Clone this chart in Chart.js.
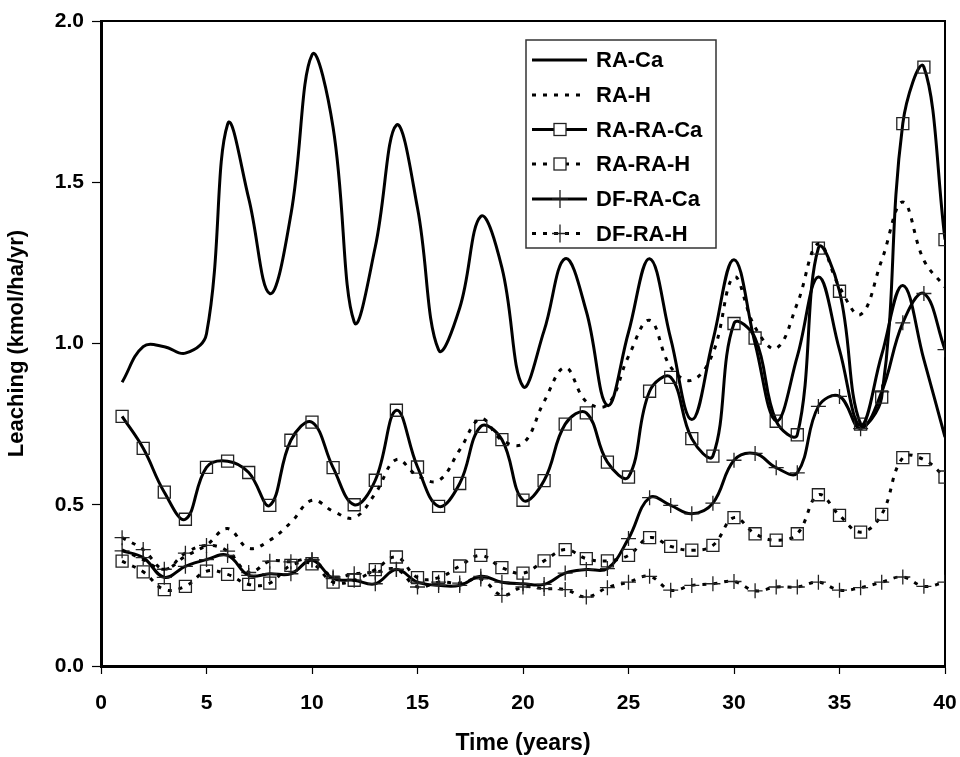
<!DOCTYPE html>
<html>
<head>
<meta charset="utf-8">
<script src="https://cdn.jsdelivr.net/npm/chart.js@4.4.1/dist/chart.umd.min.js"></script>
<style>
  html, body { margin: 0; padding: 0; background: #fff; }
</style>
</head>
<body>
<canvas id="myChart" width="960" height="757"></canvas>
<script>
var years = [1, 2, 3, 4, 5, 6, 7, 8, 9, 10, 11, 12, 13, 14, 15, 16, 17, 18, 19, 20,
             21, 22, 23, 24, 25, 26, 27, 28, 29, 30, 31, 32, 33, 34, 35, 36, 37, 38, 39, 40];

var raCa = [0.88, 0.99, 0.99, 0.97, 1.03, 1.68, 1.45, 1.155, 1.40, 1.895,
            1.67, 1.067, 1.30, 1.677, 1.42, 0.98, 1.11, 1.394, 1.235, 0.867,
            1.04, 1.263, 1.10, 0.808, 1.035, 1.263, 1.015, 0.764, 1.01, 1.26,
            1.0, 0.76, 0.96, 1.206, 0.98, 0.745, 0.965, 1.18, 0.95, 0.71];

var raH = [0.36, 0.33, 0.30, 0.34, 0.375, 0.426, 0.365, 0.39, 0.445, 0.514,
           0.48, 0.46, 0.535, 0.64, 0.59, 0.575, 0.67, 0.767, 0.70, 0.69,
           0.82, 0.925, 0.82, 0.81, 0.96, 1.072, 0.927, 0.886, 0.97, 1.206,
           1.05, 0.985, 1.124, 1.31, 1.175, 1.09, 1.258, 1.439, 1.258, 1.175];

var raRaCa = [0.774, 0.675, 0.539, 0.455, 0.616, 0.635, 0.60, 0.498, 0.70, 0.756,
              0.615, 0.50, 0.576, 0.793, 0.617, 0.495, 0.566, 0.743, 0.702, 0.514,
              0.575, 0.75, 0.785, 0.632, 0.586, 0.852, 0.895, 0.705, 0.651, 1.062,
              1.017, 0.759, 0.717, 1.296, 1.162, 0.75, 0.834, 1.682, 1.857, 1.322];

var raRaH = [0.325, 0.292, 0.237, 0.247, 0.294, 0.284, 0.253, 0.257, 0.312, 0.317,
             0.26, 0.266, 0.299, 0.338, 0.274, 0.274, 0.31, 0.343, 0.305, 0.288,
             0.326, 0.361, 0.333, 0.326, 0.343, 0.398, 0.371, 0.359, 0.374, 0.46,
             0.41, 0.39, 0.41, 0.531, 0.467, 0.415, 0.47, 0.646, 0.64, 0.586];

var dfRaCa = [0.357, 0.336, 0.275, 0.309, 0.33, 0.343, 0.281, 0.286, 0.286, 0.328,
              0.271, 0.266, 0.255, 0.299, 0.26, 0.25, 0.25, 0.278, 0.26, 0.255,
              0.253, 0.288, 0.299, 0.302, 0.395, 0.522, 0.498, 0.472, 0.505, 0.638,
              0.659, 0.615, 0.599, 0.805, 0.836, 0.736, 0.85, 1.064, 1.155, 0.981];

var dfRaH = [0.398, 0.361, 0.30, 0.35, 0.374, 0.356, 0.29, 0.325, 0.323, 0.33,
             0.276, 0.286, 0.291, 0.30, 0.245, 0.26, 0.257, 0.27, 0.219, 0.245,
             0.24, 0.237, 0.214, 0.243, 0.26, 0.278, 0.235, 0.25, 0.255, 0.262,
             0.233, 0.245, 0.245, 0.26, 0.235, 0.243, 0.26, 0.276, 0.247, 0.26];

var xTicks = [0, 5, 10, 15, 20, 25, 30, 35, 40];
var yTicks = [0.0, 0.5, 1.0, 1.5, 2.0];

var FONT = '"Liberation Sans", Arial, sans-serif';
var dots = [4, 7];

function pts(vals) {
  return years.map(function (x, i) { return { x: x, y: vals[i] }; });
}

function series(label, vals, dashed, marker) {
  return {
    label: label,
    data: pts(vals),
    borderColor: '#000',
    borderWidth: 3,
    borderDash: dashed ? dots : [],
    tension: 0.4,
    fill: false,
    pointStyle: marker || 'circle',
    pointRadius: marker === 'rect' ? 8.5 : (marker === 'cross' ? 7.5 : 0),
    pointBorderColor: '#222',
    pointBorderWidth: 1.3,
    pointBackgroundColor: 'rgba(0,0,0,0)',
    markerKind: marker || null
  };
}

// frame round the plot area (top and right sides)
const frame = {
  id: 'frame',
  beforeDatasetsDraw(chart) {
    const a = chart.chartArea, ctx = chart.ctx;
    ctx.save();
    ctx.strokeStyle = '#000';
    ctx.lineWidth = 2;
    ctx.strokeRect(a.left, a.top, a.right - a.left, a.bottom - a.top);
    ctx.restore();
  }
};

// legend box drawn inside the plot like the original
const boxLegend = {
  id: 'boxLegend',
  afterDraw(chart) {
    const ctx = chart.ctx;
    const bx = 526, by = 40, bw = 190, bh = 208;
    const rows = [60, 95, 129.5, 164, 199, 233.5];
    ctx.save();
    ctx.fillStyle = '#fff';
    ctx.fillRect(bx, by, bw, bh);
    ctx.strokeStyle = '#333';
    ctx.lineWidth = 1.5;
    ctx.strokeRect(bx, by, bw, bh);
    chart.data.datasets.forEach(function (ds, i) {
      const y = rows[i];
      ctx.strokeStyle = '#000';
      ctx.lineWidth = ds.borderWidth;
      ctx.setLineDash(ds.borderDash);
      ctx.beginPath();
      ctx.moveTo(532, y);
      ctx.lineTo(587, y);
      ctx.stroke();
      ctx.setLineDash([]);
      ctx.lineWidth = 1.3;
      ctx.strokeStyle = '#222';
      if (ds.markerKind === 'rect') {
        ctx.fillStyle = '#fff';
        ctx.fillRect(554, y - 6, 12, 12);
        ctx.strokeRect(554, y - 6, 12, 12);
      } else if (ds.markerKind === 'cross') {
        ctx.beginPath();
        ctx.moveTo(552, y); ctx.lineTo(568, y);
        ctx.moveTo(560, y - 9); ctx.lineTo(560, y + 9);
        ctx.stroke();
      }
      ctx.fillStyle = '#000';
      ctx.font = 'bold 22px ' + FONT;
      ctx.textBaseline = 'middle';
      ctx.textAlign = 'left';
      ctx.fillText(ds.label, 596, y + 1);
    });
    ctx.restore();
  }
};

const data = {
  datasets: [
    series('RA-Ca', raCa, false, null),
    series('RA-H', raH, true, null),
    series('RA-RA-Ca', raRaCa, false, 'rect'),
    series('RA-RA-H', raRaH, true, 'rect'),
    series('DF-RA-Ca', dfRaCa, false, 'cross'),
    series('DF-RA-H', dfRaH, true, 'cross')
  ]
};

const config = {
  type: 'line',
  data: data,
  plugins: [frame, boxLegend],
  options: {
    responsive: false,
    animation: false,
    devicePixelRatio: 1,
    layout: { padding: { top: 21, right: 15, left: 0, bottom: 0 } },
    plugins: { legend: { display: false }, tooltip: { enabled: false } },
    scales: {
      x: {
        type: 'linear',
        min: 0,
        max: 40,
        afterBuildTicks: function (scale) {
          scale.ticks = xTicks.map(function (v) { return { value: v }; });
        },
        afterFit: function (scale) {
          scale.height = 91;
          scale.paddingLeft = 0;
          scale.paddingRight = 0;
        },
        ticks: {
          color: '#000',
          font: { family: FONT, size: 21, weight: 'bold' },
          padding: 17,
          maxRotation: 0
        },
        grid: { display: true, drawOnChartArea: false, drawTicks: true, tickLength: 8, color: '#000', tickWidth: 1.2 },
        border: { display: true, color: '#000', width: 3 },
        title: {
          display: true,
          text: 'Time (years)',
          color: '#000',
          font: { family: FONT, size: 23, weight: 'bold' },
          padding: { top: 0, bottom: 0 }
        }
      },
      y: {
        type: 'linear',
        min: 0,
        max: 2,
        afterBuildTicks: function (scale) {
          scale.ticks = yTicks.map(function (v) { return { value: v }; });
        },
        afterFit: function (scale) {
          scale.width = 101;
          scale.paddingTop = 0;
          scale.paddingBottom = 0;
        },
        ticks: {
          color: '#000',
          font: { family: FONT, size: 21, weight: 'bold' },
          padding: 8,
          callback: function (v) { return Number(v).toFixed(1); }
        },
        grid: { display: true, drawOnChartArea: false, drawTicks: true, tickLength: 9, color: '#000', tickWidth: 1.2 },
        border: { display: true, color: '#000', width: 3 },
        title: {
          display: true,
          text: 'Leaching (kmol/ha/yr)',
          color: '#000',
          font: { family: FONT, size: 22, weight: 'bold' },
          padding: { top: 4, bottom: 0 }
        }
      }
    }
  }
};

const myChart = new Chart(document.getElementById('myChart'), config);
</script>
</body>
</html>
